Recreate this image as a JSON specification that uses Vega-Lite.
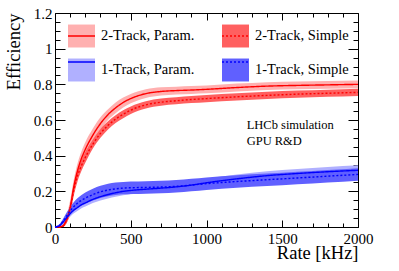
{
  "$schema": "https://vega.github.io/schema/vega-lite/v6.json",
  "width": 303,
  "height": 214,
  "autosize": {"type": "none"},
  "padding": {"left": 55, "top": 13, "right": 41, "bottom": 44},
  "background": "white",
  "config": {
    "view": {"stroke": "black", "strokeWidth": 1},
    "style": {"guide-label": {"font": "Liberation Serif", "fill": "black"}, "guide-title": {"font": "Liberation Serif", "fill": "black", "fontWeight": "normal"}},
    "axis": {"grid": false, "domain": false, "tickColor": "black", "tickWidth": 1, "labelFont": "Liberation Serif", "labelFontSize": 15, "labelColor": "black", "titleFont": "Liberation Serif", "titleFontSize": 18, "titleFontWeight": "normal", "titleColor": "black"}
  },
  "datasets": {
    "curves": [
      {"series": "2-Track, Param.", "rate": 0, "eff": 0, "lo": 0, "hi": 0.005},
      {"series": "2-Track, Param.", "rate": 25, "eff": 0, "lo": 0, "hi": 0.005},
      {"series": "2-Track, Param.", "rate": 50, "eff": 0.005, "lo": 0, "hi": 0.012},
      {"series": "2-Track, Param.", "rate": 75, "eff": 0.04, "lo": 0.02, "hi": 0.06},
      {"series": "2-Track, Param.", "rate": 100, "eff": 0.11, "lo": 0.07, "hi": 0.15},
      {"series": "2-Track, Param.", "rate": 125, "eff": 0.23, "lo": 0.19, "hi": 0.27},
      {"series": "2-Track, Param.", "rate": 150, "eff": 0.32, "lo": 0.28, "hi": 0.36},
      {"series": "2-Track, Param.", "rate": 175, "eff": 0.385, "lo": 0.345, "hi": 0.425},
      {"series": "2-Track, Param.", "rate": 200, "eff": 0.435, "lo": 0.395, "hi": 0.475},
      {"series": "2-Track, Param.", "rate": 250, "eff": 0.515, "lo": 0.478, "hi": 0.552},
      {"series": "2-Track, Param.", "rate": 300, "eff": 0.58, "lo": 0.545, "hi": 0.615},
      {"series": "2-Track, Param.", "rate": 350, "eff": 0.63, "lo": 0.6, "hi": 0.66},
      {"series": "2-Track, Param.", "rate": 400, "eff": 0.668, "lo": 0.638, "hi": 0.698},
      {"series": "2-Track, Param.", "rate": 450, "eff": 0.698, "lo": 0.67, "hi": 0.726},
      {"series": "2-Track, Param.", "rate": 500, "eff": 0.72, "lo": 0.694, "hi": 0.746},
      {"series": "2-Track, Param.", "rate": 600, "eff": 0.748, "lo": 0.724, "hi": 0.772},
      {"series": "2-Track, Param.", "rate": 700, "eff": 0.76, "lo": 0.737, "hi": 0.783},
      {"series": "2-Track, Param.", "rate": 800, "eff": 0.765, "lo": 0.743, "hi": 0.787},
      {"series": "2-Track, Param.", "rate": 900, "eff": 0.768, "lo": 0.746, "hi": 0.79},
      {"series": "2-Track, Param.", "rate": 1000, "eff": 0.772, "lo": 0.75, "hi": 0.794},
      {"series": "2-Track, Param.", "rate": 1200, "eff": 0.782, "lo": 0.76, "hi": 0.804},
      {"series": "2-Track, Param.", "rate": 1400, "eff": 0.79, "lo": 0.768, "hi": 0.812},
      {"series": "2-Track, Param.", "rate": 1600, "eff": 0.794, "lo": 0.772, "hi": 0.816},
      {"series": "2-Track, Param.", "rate": 1800, "eff": 0.797, "lo": 0.775, "hi": 0.819},
      {"series": "2-Track, Param.", "rate": 2000, "eff": 0.8, "lo": 0.778, "hi": 0.822},
      {"series": "2-Track, Simple", "rate": 0, "eff": 0, "lo": 0, "hi": 0.004},
      {"series": "2-Track, Simple", "rate": 25, "eff": 0, "lo": 0, "hi": 0.004},
      {"series": "2-Track, Simple", "rate": 50, "eff": 0.003, "lo": 0, "hi": 0.01},
      {"series": "2-Track, Simple", "rate": 75, "eff": 0.035, "lo": 0.02, "hi": 0.05},
      {"series": "2-Track, Simple", "rate": 100, "eff": 0.1, "lo": 0.075, "hi": 0.125},
      {"series": "2-Track, Simple", "rate": 125, "eff": 0.21, "lo": 0.18, "hi": 0.24},
      {"series": "2-Track, Simple", "rate": 150, "eff": 0.29, "lo": 0.26, "hi": 0.32},
      {"series": "2-Track, Simple", "rate": 175, "eff": 0.345, "lo": 0.315, "hi": 0.375},
      {"series": "2-Track, Simple", "rate": 200, "eff": 0.39, "lo": 0.36, "hi": 0.42},
      {"series": "2-Track, Simple", "rate": 250, "eff": 0.465, "lo": 0.44, "hi": 0.49},
      {"series": "2-Track, Simple", "rate": 300, "eff": 0.525, "lo": 0.5, "hi": 0.55},
      {"series": "2-Track, Simple", "rate": 350, "eff": 0.57, "lo": 0.547, "hi": 0.593},
      {"series": "2-Track, Simple", "rate": 400, "eff": 0.605, "lo": 0.583, "hi": 0.627},
      {"series": "2-Track, Simple", "rate": 450, "eff": 0.632, "lo": 0.61, "hi": 0.654},
      {"series": "2-Track, Simple", "rate": 500, "eff": 0.655, "lo": 0.634, "hi": 0.676},
      {"series": "2-Track, Simple", "rate": 600, "eff": 0.685, "lo": 0.665, "hi": 0.705},
      {"series": "2-Track, Simple", "rate": 700, "eff": 0.7, "lo": 0.68, "hi": 0.72},
      {"series": "2-Track, Simple", "rate": 800, "eff": 0.708, "lo": 0.688, "hi": 0.728},
      {"series": "2-Track, Simple", "rate": 900, "eff": 0.715, "lo": 0.695, "hi": 0.735},
      {"series": "2-Track, Simple", "rate": 1000, "eff": 0.72, "lo": 0.7, "hi": 0.74},
      {"series": "2-Track, Simple", "rate": 1200, "eff": 0.73, "lo": 0.71, "hi": 0.75},
      {"series": "2-Track, Simple", "rate": 1400, "eff": 0.738, "lo": 0.718, "hi": 0.758},
      {"series": "2-Track, Simple", "rate": 1600, "eff": 0.745, "lo": 0.725, "hi": 0.765},
      {"series": "2-Track, Simple", "rate": 1800, "eff": 0.75, "lo": 0.73, "hi": 0.77},
      {"series": "2-Track, Simple", "rate": 2000, "eff": 0.755, "lo": 0.735, "hi": 0.775},
      {"series": "1-Track, Param.", "rate": 0, "eff": 0, "lo": 0, "hi": 0.004},
      {"series": "1-Track, Param.", "rate": 25, "eff": 0.005, "lo": 0, "hi": 0.012},
      {"series": "1-Track, Param.", "rate": 50, "eff": 0.025, "lo": 0.012, "hi": 0.038},
      {"series": "1-Track, Param.", "rate": 75, "eff": 0.05, "lo": 0.035, "hi": 0.065},
      {"series": "1-Track, Param.", "rate": 100, "eff": 0.075, "lo": 0.058, "hi": 0.092},
      {"series": "1-Track, Param.", "rate": 125, "eff": 0.095, "lo": 0.077, "hi": 0.113},
      {"series": "1-Track, Param.", "rate": 150, "eff": 0.11, "lo": 0.091, "hi": 0.129},
      {"series": "1-Track, Param.", "rate": 175, "eff": 0.125, "lo": 0.105, "hi": 0.145},
      {"series": "1-Track, Param.", "rate": 200, "eff": 0.135, "lo": 0.115, "hi": 0.155},
      {"series": "1-Track, Param.", "rate": 250, "eff": 0.155, "lo": 0.134, "hi": 0.176},
      {"series": "1-Track, Param.", "rate": 300, "eff": 0.17, "lo": 0.149, "hi": 0.191},
      {"series": "1-Track, Param.", "rate": 350, "eff": 0.182, "lo": 0.16, "hi": 0.204},
      {"series": "1-Track, Param.", "rate": 400, "eff": 0.192, "lo": 0.17, "hi": 0.214},
      {"series": "1-Track, Param.", "rate": 450, "eff": 0.2, "lo": 0.178, "hi": 0.222},
      {"series": "1-Track, Param.", "rate": 500, "eff": 0.205, "lo": 0.183, "hi": 0.227},
      {"series": "1-Track, Param.", "rate": 600, "eff": 0.212, "lo": 0.19, "hi": 0.234},
      {"series": "1-Track, Param.", "rate": 700, "eff": 0.218, "lo": 0.195, "hi": 0.241},
      {"series": "1-Track, Param.", "rate": 800, "eff": 0.225, "lo": 0.202, "hi": 0.248},
      {"series": "1-Track, Param.", "rate": 900, "eff": 0.235, "lo": 0.211, "hi": 0.259},
      {"series": "1-Track, Param.", "rate": 1000, "eff": 0.248, "lo": 0.224, "hi": 0.272},
      {"series": "1-Track, Param.", "rate": 1200, "eff": 0.27, "lo": 0.245, "hi": 0.295},
      {"series": "1-Track, Param.", "rate": 1400, "eff": 0.288, "lo": 0.263, "hi": 0.313},
      {"series": "1-Track, Param.", "rate": 1600, "eff": 0.3, "lo": 0.275, "hi": 0.325},
      {"series": "1-Track, Param.", "rate": 1800, "eff": 0.31, "lo": 0.284, "hi": 0.336},
      {"series": "1-Track, Param.", "rate": 2000, "eff": 0.318, "lo": 0.29, "hi": 0.346},
      {"series": "1-Track, Simple", "rate": 0, "eff": 0, "lo": 0, "hi": 0.004},
      {"series": "1-Track, Simple", "rate": 25, "eff": 0.005, "lo": 0, "hi": 0.012},
      {"series": "1-Track, Simple", "rate": 50, "eff": 0.028, "lo": 0.015, "hi": 0.041},
      {"series": "1-Track, Simple", "rate": 75, "eff": 0.06, "lo": 0.042, "hi": 0.078},
      {"series": "1-Track, Simple", "rate": 100, "eff": 0.09, "lo": 0.068, "hi": 0.112},
      {"series": "1-Track, Simple", "rate": 125, "eff": 0.115, "lo": 0.09, "hi": 0.14},
      {"series": "1-Track, Simple", "rate": 150, "eff": 0.135, "lo": 0.108, "hi": 0.162},
      {"series": "1-Track, Simple", "rate": 175, "eff": 0.15, "lo": 0.121, "hi": 0.179},
      {"series": "1-Track, Simple", "rate": 200, "eff": 0.162, "lo": 0.131, "hi": 0.193},
      {"series": "1-Track, Simple", "rate": 250, "eff": 0.182, "lo": 0.149, "hi": 0.215},
      {"series": "1-Track, Simple", "rate": 300, "eff": 0.197, "lo": 0.163, "hi": 0.231},
      {"series": "1-Track, Simple", "rate": 350, "eff": 0.207, "lo": 0.172, "hi": 0.242},
      {"series": "1-Track, Simple", "rate": 400, "eff": 0.214, "lo": 0.179, "hi": 0.249},
      {"series": "1-Track, Simple", "rate": 450, "eff": 0.218, "lo": 0.183, "hi": 0.253},
      {"series": "1-Track, Simple", "rate": 500, "eff": 0.22, "lo": 0.185, "hi": 0.255},
      {"series": "1-Track, Simple", "rate": 600, "eff": 0.222, "lo": 0.187, "hi": 0.257},
      {"series": "1-Track, Simple", "rate": 700, "eff": 0.224, "lo": 0.189, "hi": 0.259},
      {"series": "1-Track, Simple", "rate": 800, "eff": 0.228, "lo": 0.193, "hi": 0.263},
      {"series": "1-Track, Simple", "rate": 900, "eff": 0.235, "lo": 0.2, "hi": 0.27},
      {"series": "1-Track, Simple", "rate": 1000, "eff": 0.243, "lo": 0.208, "hi": 0.278},
      {"series": "1-Track, Simple", "rate": 1200, "eff": 0.255, "lo": 0.22, "hi": 0.29},
      {"series": "1-Track, Simple", "rate": 1400, "eff": 0.265, "lo": 0.23, "hi": 0.3},
      {"series": "1-Track, Simple", "rate": 1600, "eff": 0.275, "lo": 0.24, "hi": 0.31},
      {"series": "1-Track, Simple", "rate": 1800, "eff": 0.285, "lo": 0.25, "hi": 0.32},
      {"series": "1-Track, Simple", "rate": 2000, "eff": 0.295, "lo": 0.26, "hi": 0.33}
    ],
    "notes": [
      {"label": "LHCb simulation", "rate": 1265, "eff": 0.571},
      {"label": "GPU R&D", "rate": 1265, "eff": 0.483}
    ]
  },
  "resolve": {"axis": {"x": "independent", "y": "independent"}},
  "layer": [
    {
      "data": {"name": "curves"},
      "transform": [{"filter": "indexof(datum.series, 'Param') >= 0"}],
      "mark": {"type": "area", "interpolate": "monotone", "opacity": 1},
      "encoding": {
        "x": {"field": "rate", "type": "quantitative", "scale": {"domain": [0, 2000], "nice": false, "zero": false},
          "axis": {"orient": "bottom", "values": [0, 500, 1000, 1500, 2000], "format": "d", "tickSize": -7, "labelPadding": 11, "labelFlush": false, "labelFont": "Liberation Serif", "labelFontSize": 15, "labelColor": "black", "title": "Rate [kHz]", "titleFont": "Liberation Serif", "titleFontSize": 18.5, "titleFontWeight": "normal", "titleColor": "black", "titleX": 303, "titleY": 31.5, "titleAlign": "right", "titleBaseline": "alphabetic", "titleAnchor": "end"}},
        "y": {"field": "lo", "type": "quantitative", "scale": {"domain": [0, 1.2], "nice": false, "zero": false},
          "axis": {"orient": "left", "values": [0, 0.2, 0.4, 0.6, 0.8, 1, 1.2], "format": ".1~f", "tickSize": -10, "labelPadding": 13, "labelFlush": false, "labelFont": "Liberation Serif", "labelFontSize": 15, "labelColor": "black", "title": "Efficiency", "titleFont": "Liberation Serif", "titleFontSize": 18.5, "titleFontWeight": "normal", "titleColor": "black", "titleX": -35.5, "titleY": 0, "titleAlign": "right", "titleBaseline": "alphabetic", "titleAngle": 270, "titleAnchor": "end"}},
        "y2": {"field": "hi"},
        "fill": {"field": "series", "type": "nominal",
          "scale": {"domain": ["2-Track, Param.", "2-Track, Simple", "1-Track, Param.", "1-Track, Simple"], "range": ["#ffb0b0", "#ff6060", "#b0b0ff", "#6060ff"]},
          "legend": {"orient": "none", "direction": "horizontal", "legendX": 12, "legendY": 8.5, "columns": 2, "title": null, "symbolType": "M-1,-0.85H1V0.85H-1Z", "symbolSize": 729, "symbolStrokeWidth": 1.5, "symbolStrokeColor": "transparent", "symbolOpacity": 1, "labelFont": "Liberation Serif", "labelFontSize": 14.5, "labelColor": "black", "labelOffset": 5, "columnPadding": 24, "rowPadding": 5, "padding": 0, "labelLimit": 200}}
      }
    },
    {
      "data": {"name": "curves"},
      "transform": [{"filter": "indexof(datum.series, 'Simple') >= 0"}],
      "mark": {"type": "area", "interpolate": "monotone", "opacity": 1},
      "encoding": {
        "x": {"field": "rate", "type": "quantitative",
          "axis": {"orient": "bottom", "values": [100, 200, 300, 400, 600, 700, 800, 900, 1100, 1200, 1300, 1400, 1600, 1700, 1800, 1900], "tickSize": -4, "labels": false, "title": null}},
        "y": {"field": "lo", "type": "quantitative",
          "axis": {"orient": "left", "values": [0.05, 0.1, 0.15, 0.25, 0.3, 0.35, 0.45, 0.5, 0.55, 0.65, 0.7, 0.75, 0.85, 0.9, 0.95, 1.05, 1.1, 1.15], "tickSize": -5, "labels": false, "title": null}},
        "y2": {"field": "hi"},
        "fill": {"field": "series", "type": "nominal",
          "legend": {"orient": "none", "direction": "horizontal", "legendX": 12, "legendY": 8.5, "columns": 2, "title": null, "symbolType": "M-1,-0.85H1V0.85H-1Z", "symbolSize": 729, "symbolStrokeWidth": 1.5, "symbolStrokeColor": "transparent", "symbolOpacity": 1, "labelFont": "Liberation Serif", "labelFontSize": 14.5, "labelColor": "black", "labelOffset": 5, "columnPadding": 24, "rowPadding": 5, "padding": 0, "labelLimit": 200}}
      }
    },
    {
      "data": {"name": "curves"},
      "mark": {"type": "line", "interpolate": "monotone", "strokeWidth": 1.4},
      "encoding": {
        "x": {"field": "rate", "type": "quantitative",
          "axis": {"orient": "top", "values": [0, 500, 1000, 1500, 2000], "tickSize": -7, "labels": false, "title": null}},
        "y": {"field": "eff", "type": "quantitative",
          "axis": {"orient": "right", "values": [0, 0.2, 0.4, 0.6, 0.8, 1, 1.2], "tickSize": -10, "labels": false, "title": null}},
        "strokeDash": {"field": "series", "type": "nominal",
          "scale": {"domain": ["2-Track, Param.", "2-Track, Simple", "1-Track, Param.", "1-Track, Simple"], "range": [[1, 0], [2, 2], [1, 0], [2, 2]]},
          "legend": null},
        "stroke": {"field": "series", "type": "nominal", "sort": ["2-Track, Param.", "2-Track, Simple", "1-Track, Param.", "1-Track, Simple"],
          "scale": {"range": ["#ff0000", "#ff0000", "#0000ff", "#0000ff"]},
          "legend": {"orient": "none", "direction": "horizontal", "legendX": 12, "legendY": 8.5, "columns": 2, "title": null, "symbolType": "stroke", "symbolSize": 729, "symbolStrokeWidth": 1.5, "labelFont": "Liberation Serif", "labelFontSize": 14.5, "labelColor": "transparent", "labelOffset": 5, "columnPadding": 24, "rowPadding": 5, "padding": 0, "labelLimit": 200,
            "encode": {"symbols": {"update": {"strokeDash": {"signal": "indexof(datum.value, 'Simple') >= 0 ? [2, 2] : [1, 0]"}}}}}}
      }
    },
    {
      "data": {"name": "notes"},
      "mark": {"type": "text", "align": "left", "baseline": "middle", "font": "Liberation Serif", "fontSize": 12.5, "color": "black"},
      "encoding": {
        "x": {"field": "rate", "type": "quantitative",
          "axis": {"orient": "top", "values": [100, 200, 300, 400, 600, 700, 800, 900, 1100, 1200, 1300, 1400, 1600, 1700, 1800, 1900], "tickSize": -4, "labels": false, "title": null}},
        "y": {"field": "eff", "type": "quantitative",
          "axis": {"orient": "right", "values": [0.05, 0.1, 0.15, 0.25, 0.3, 0.35, 0.45, 0.5, 0.55, 0.65, 0.7, 0.75, 0.85, 0.9, 0.95, 1.05, 1.1, 1.15], "tickSize": -5, "labels": false, "title": null}},
        "text": {"field": "label"}
      }
    }
  ]
}
